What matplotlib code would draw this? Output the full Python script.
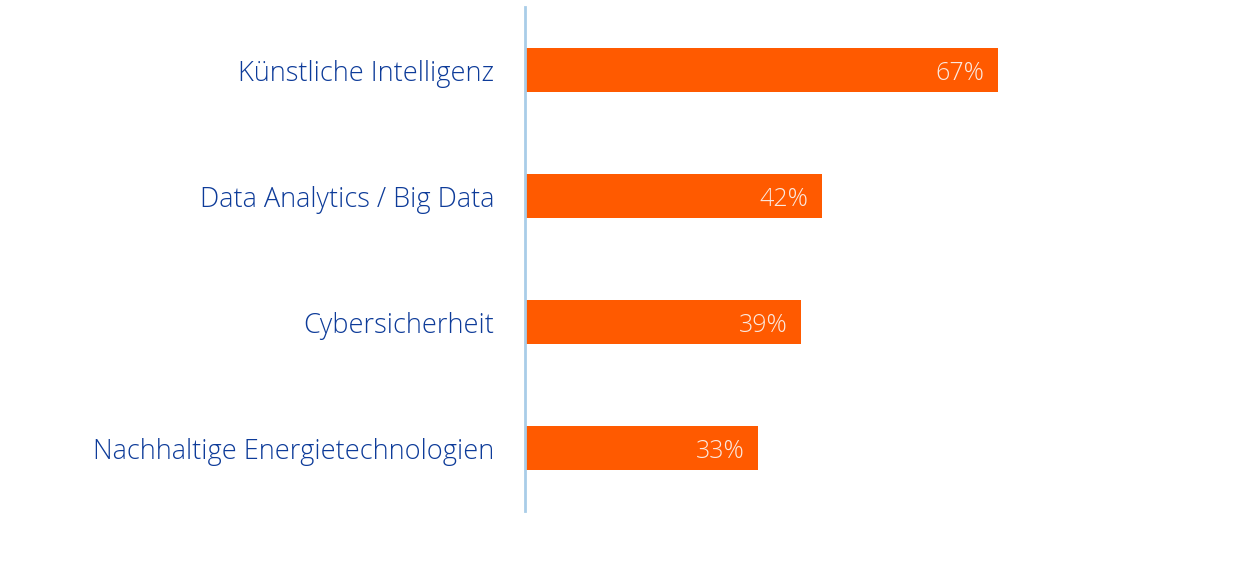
import matplotlib
matplotlib.use("Agg")
import matplotlib.pyplot as plt

categories = ["Künstliche Intelligenz", "Data Analytics / Big Data", "Cybersicherheit", "Nachhaltige Energietechnologien"]
values = [67, 42, 39, 33]
value_labels = ["67%", "42%", "39%", "33%"]

bar_color = "#ff5a00"
label_color = "#0d3b99"
axis_color = "#a9cde8"

fig = plt.figure(figsize=(12.42, 5.73), dpi=100)
ax = fig.add_axes([525/1242, 62/573, 705/1242, 504/573])

y = list(range(len(categories)))
ax.barh(y, values, height=0.35, color=bar_color, left=0.1)
ax.set_xlim(0, 100)
ax.set_ylim(3.5, -0.5)

for s in ["top", "right", "bottom"]:
    ax.spines[s].set_visible(False)
ax.spines["left"].set_color(axis_color)
ax.spines["left"].set_linewidth(2)
ax.set_xticks([])
ax.set_yticks(y)
ax.set_yticklabels(categories, fontsize=19.5, color=label_color, family="Open Sans",
                   fontweight="light", va="center_baseline")
ax.tick_params(axis="y", length=0, pad=22)

for yi, v, lab in zip(y, values, value_labels):
    ax.text(v - 1.8, yi, lab, ha="right", va="center_baseline", fontsize=18, color="#fbe9e0",
            family="Open Sans", fontweight="light")

fig.savefig("out.png", dpi=100)
